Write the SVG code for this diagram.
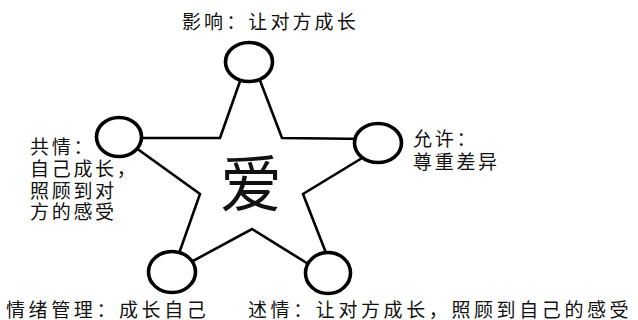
<svg xmlns="http://www.w3.org/2000/svg" width="638" height="320" viewBox="0 0 638 320">
<style>
.edge{stroke:#000;stroke-width:2.6;fill:none;stroke-linejoin:miter;stroke-linecap:butt}
.node{fill:#fff;stroke:#000;stroke-width:3.6}
.lbl{font-family:"Noto Sans CJK SC","Noto Sans CJK JP",sans-serif;font-size:19px;fill:#111;letter-spacing:2.7px}
.wide{letter-spacing:3.6px}
.big{font-family:"Noto Sans CJK SC","Noto Sans CJK JP",sans-serif;font-size:62px;fill:#111;text-anchor:middle}
</style>
<rect width="638" height="320" fill="#fff"/>
<g id="connectors">
<path class="edge" d="M244,70 L220,138 L125,138"/>
<path class="edge" d="M125,140 L200,194 L176,262"/>
<path class="edge" d="M180,268 L252,229 L318,270"/>
<path class="edge" d="M328,258 L303,194 L372,152"/>
<path class="edge" d="M370,139 L282,138 L256,70"/>
</g>
<g id="center"><text class="big" x="251" y="207">爱</text></g>
<g id="n-top"><ellipse class="node" cx="249" cy="62" rx="23.5" ry="19.5"/><text class="lbl" x="182" y="28.5" style="letter-spacing:3.1px">影响：让对方成长</text></g>
<g id="n-left"><ellipse class="node" cx="119" cy="137" rx="22.5" ry="19.5"/><text class="lbl" x="30" y="154">共情：</text><text class="lbl" x="30" y="176">自己成长，</text><text class="lbl" x="30" y="198">照顾到对</text><text class="lbl" x="30" y="219">方的感受</text></g>
<g id="n-right"><ellipse class="node" cx="378" cy="143" rx="23.5" ry="19.5"/><text class="lbl" x="413" y="145.5">允许：</text><text class="lbl" x="413" y="168.5">尊重差异</text></g>
<g id="n-bl"><ellipse class="node" cx="172" cy="272" rx="23.5" ry="20.5"/><text class="lbl wide" x="6" y="316.5">情绪管理：成长自己</text></g>
<g id="n-br"><ellipse class="node" cx="328" cy="273" rx="22.5" ry="20.5"/><text class="lbl wide" x="248" y="316.5">述情：让对方成长，照顾到自己的感受</text></g>
</svg>
